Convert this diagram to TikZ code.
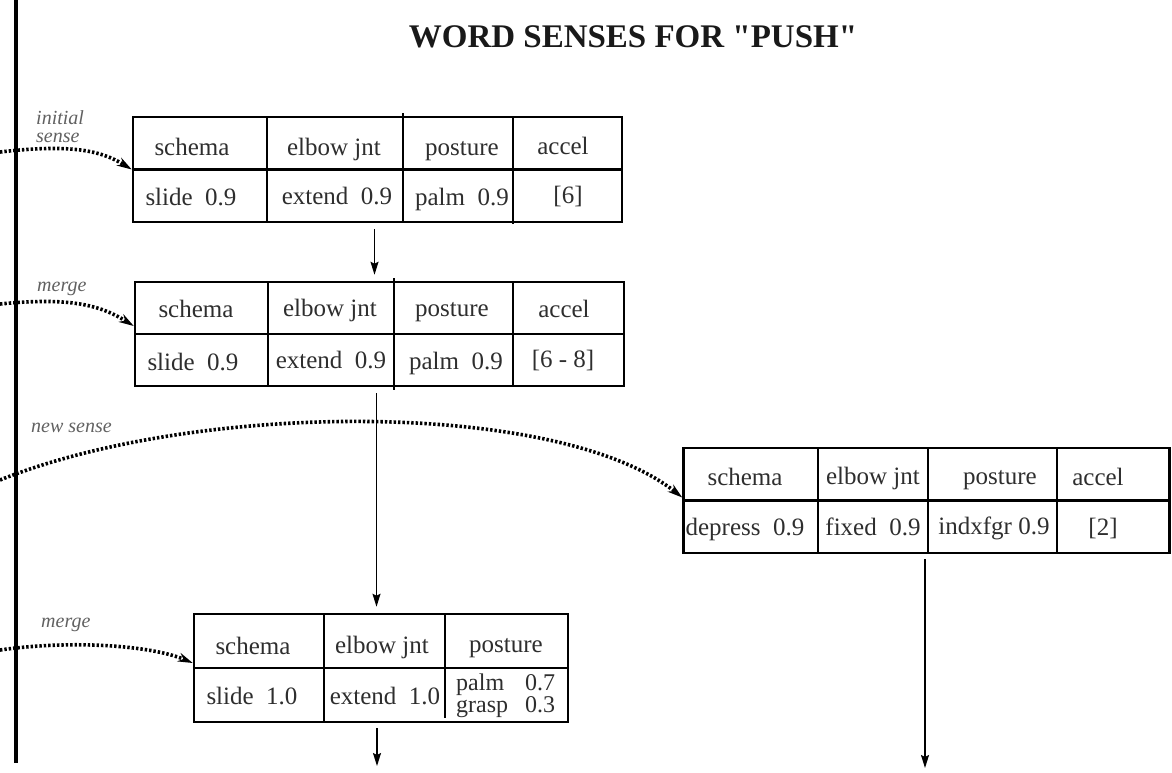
\documentclass[tikz,border=0pt]{standalone}
\usepackage{fontspec}
\setmainfont{Liberation Serif}
\newfontfamily\titlefont{Liberation Serif}
\usetikzlibrary{arrows.meta,calc}
\begin{document}
\begin{tikzpicture}[x=1pt,y=-1pt,
  tbl/.style={draw, line width=2.5pt, inner sep=0pt},
  tline/.style={line width=2.5pt},
  cell/.style={text=black!82, font=\fontsize{25}{28}\selectfont, inner sep=0pt, anchor=center, text height=17pt, text depth=5pt},
  conn/.style={line width=1.5pt, -{Stealth[length=13pt,width=8pt,inset=2pt]}},
  sense/.style={line width=3.6pt, dash pattern=on 2.4pt off 2pt, -{Stealth[length=15pt,width=9pt]}},
  lbl/.style={text=black!62, font=\fontsize{20}{18}\selectfont\itshape, inner sep=0pt, align=left},
]
\useasboundingbox (0,0) rectangle (1172,772);

% title
\node[font=\titlefont\fontsize{33}{36}\selectfont\bfseries, text=black!90] (title) at (633,37) {WORD SENSES FOR "PUSH"};

% vertical time line
\draw[line width=4pt] (16,0) -- (16,763);

% ---- table 1
\node[tbl, minimum width=489pt, minimum height=105pt] (t1) at (377.5,169.5) {};
\draw[tline] (t1.west) -- (t1.east);
\draw[tline] (267,117) -- (267,222);
\draw[tline] (403,113) -- (403,222);
\draw[tline] (513,117) -- (513,224);
\node[cell] (t1a) at (192,149) {schema};
\node[cell] (t1b) at (334,149) {elbow jnt};
\node[cell] (t1c) at (462,149) {posture};
\node[cell] (t1d) at (563,148) {accel};
\node[cell] (t1e) at (191,199) {slide~~0.9};
\node[cell] (t1f) at (337,198) {extend~~0.9};
\node[cell] (t1g) at (462,199) {palm~~0.9};
\node[cell] (t1h) at (568,197) {[6]};

% ---- table 2
\node[tbl, minimum width=489pt, minimum height=104pt] (t2) at (379.5,334) {};
\draw[tline] (135,334) -- (624,334);
\draw[tline] (268,282) -- (268,386);
\draw[tline] (394,278) -- (394,390);
\draw[tline] (513,282) -- (513,386);
\node[cell] (t2a) at (196,311) {schema};
\node[cell] (t2b) at (330,310) {elbow jnt};
\node[cell] (t2c) at (452,310) {posture};
\node[cell] (t2d) at (564,311) {accel};
\node[cell] (t2e) at (193,364) {slide~~0.9};
\node[cell] (t2f) at (331,362) {extend~~0.9};
\node[cell] (t2g) at (456,363) {palm~~0.9};
\node[cell] (t2h) at (563,361) {[6 - 8]};

% ---- table 3
\node[tbl, minimum width=486pt, minimum height=105pt] (t3) at (926.5,500.5) {};
\draw[tline] (t3.west) -- (t3.east);
\draw[tline] (818,448) -- (818,553);
\draw[tline] (928,448) -- (928,553);
\draw[tline] (1057,448) -- (1057,553);
\node[cell] (t3a) at (745,479) {schema};
\node[cell] (t3b) at (873,478) {elbow jnt};
\node[cell] (t3c) at (1000,478) {posture};
\node[cell] (t3d) at (1098,479) {accel};
\node[cell] (t3e) at (745,529) {depress~~0.9};
\node[cell] (t3f) at (873,529) {fixed~~0.9};
\node[cell] (t3g) at (994,528) {indxfgr 0.9};
\node[cell] (t3h) at (1103,529) {[2]};

% ---- table 4
\node[tbl, minimum width=374pt, minimum height=108pt] (t4) at (381,668) {};
\draw[tline] (t4.west) -- (t4.east);
\draw[tline] (324,614) -- (324,722);
\draw[tline] (445,614) -- (445,718);
\node[cell] (t4a) at (253,648) {schema};
\node[cell] (t4b) at (382,647) {elbow jnt};
\node[cell] (t4c) at (506,646) {posture};
\node[cell] (t4e) at (252,698) {slide~~1.0};
\node[cell] (t4f) at (385,698) {extend~~1.0};
\node[text=black!82, font=\fontsize{24}{20}\selectfont, inner sep=0pt, anchor=west] (t4g) at (456,696)
  {\begin{tabular}{@{}l@{\hspace{17pt}}r@{}}palm & 0.7\\ grasp & 0.3\end{tabular}};

% ---- solid connectors
\coordinate (e3) at (925,768);
\coordinate (e4) at (377,766);
\draw[conn, shorten <=6pt, shorten >=6pt] ([xshift=-3pt]t1.south) -- ([xshift=-3pt]t1.south |- t2.north);
\draw[conn, shorten <=6pt, shorten >=6pt] ([xshift=-3pt]t2.south) -- ([xshift=-3pt]t2.south |- t4.north);
\draw[conn, shorten <=5pt] ([xshift=-1.5pt]t3.south) -- (e3);
\draw[conn, shorten <=5pt] ([xshift=-4pt]t4.south) -- (e4);

% ---- sense arrows
\coordinate (s1) at (0,152);
\coordinate (s2) at (0,304);
\coordinate (s3) at (0,480);
\coordinate (s4) at (0,650);
\draw[sense] (s1) .. controls (70,144) and (100,150) .. (t1.west);
\draw[sense] (s2) .. controls (70,297) and (100,305) .. ([yshift=8pt]t2.west);
\draw[sense] (s3) .. controls (200,400) and (560,400) .. ([yshift=3pt]t3.west);
\draw[sense] (s4) .. controls (70,640) and (150,645) .. ([yshift=5pt]t4.west);

% ---- labels
\node[lbl, anchor=west] (l1) at (36,127) {initial\\sense};
\node[lbl, anchor=west] (l2) at (37,289) {merge};
\node[lbl, anchor=west] (l3) at (31,428) {new sense};
\node[lbl, anchor=west] (l4) at (41,625) {merge};
\end{tikzpicture}
\end{document}
